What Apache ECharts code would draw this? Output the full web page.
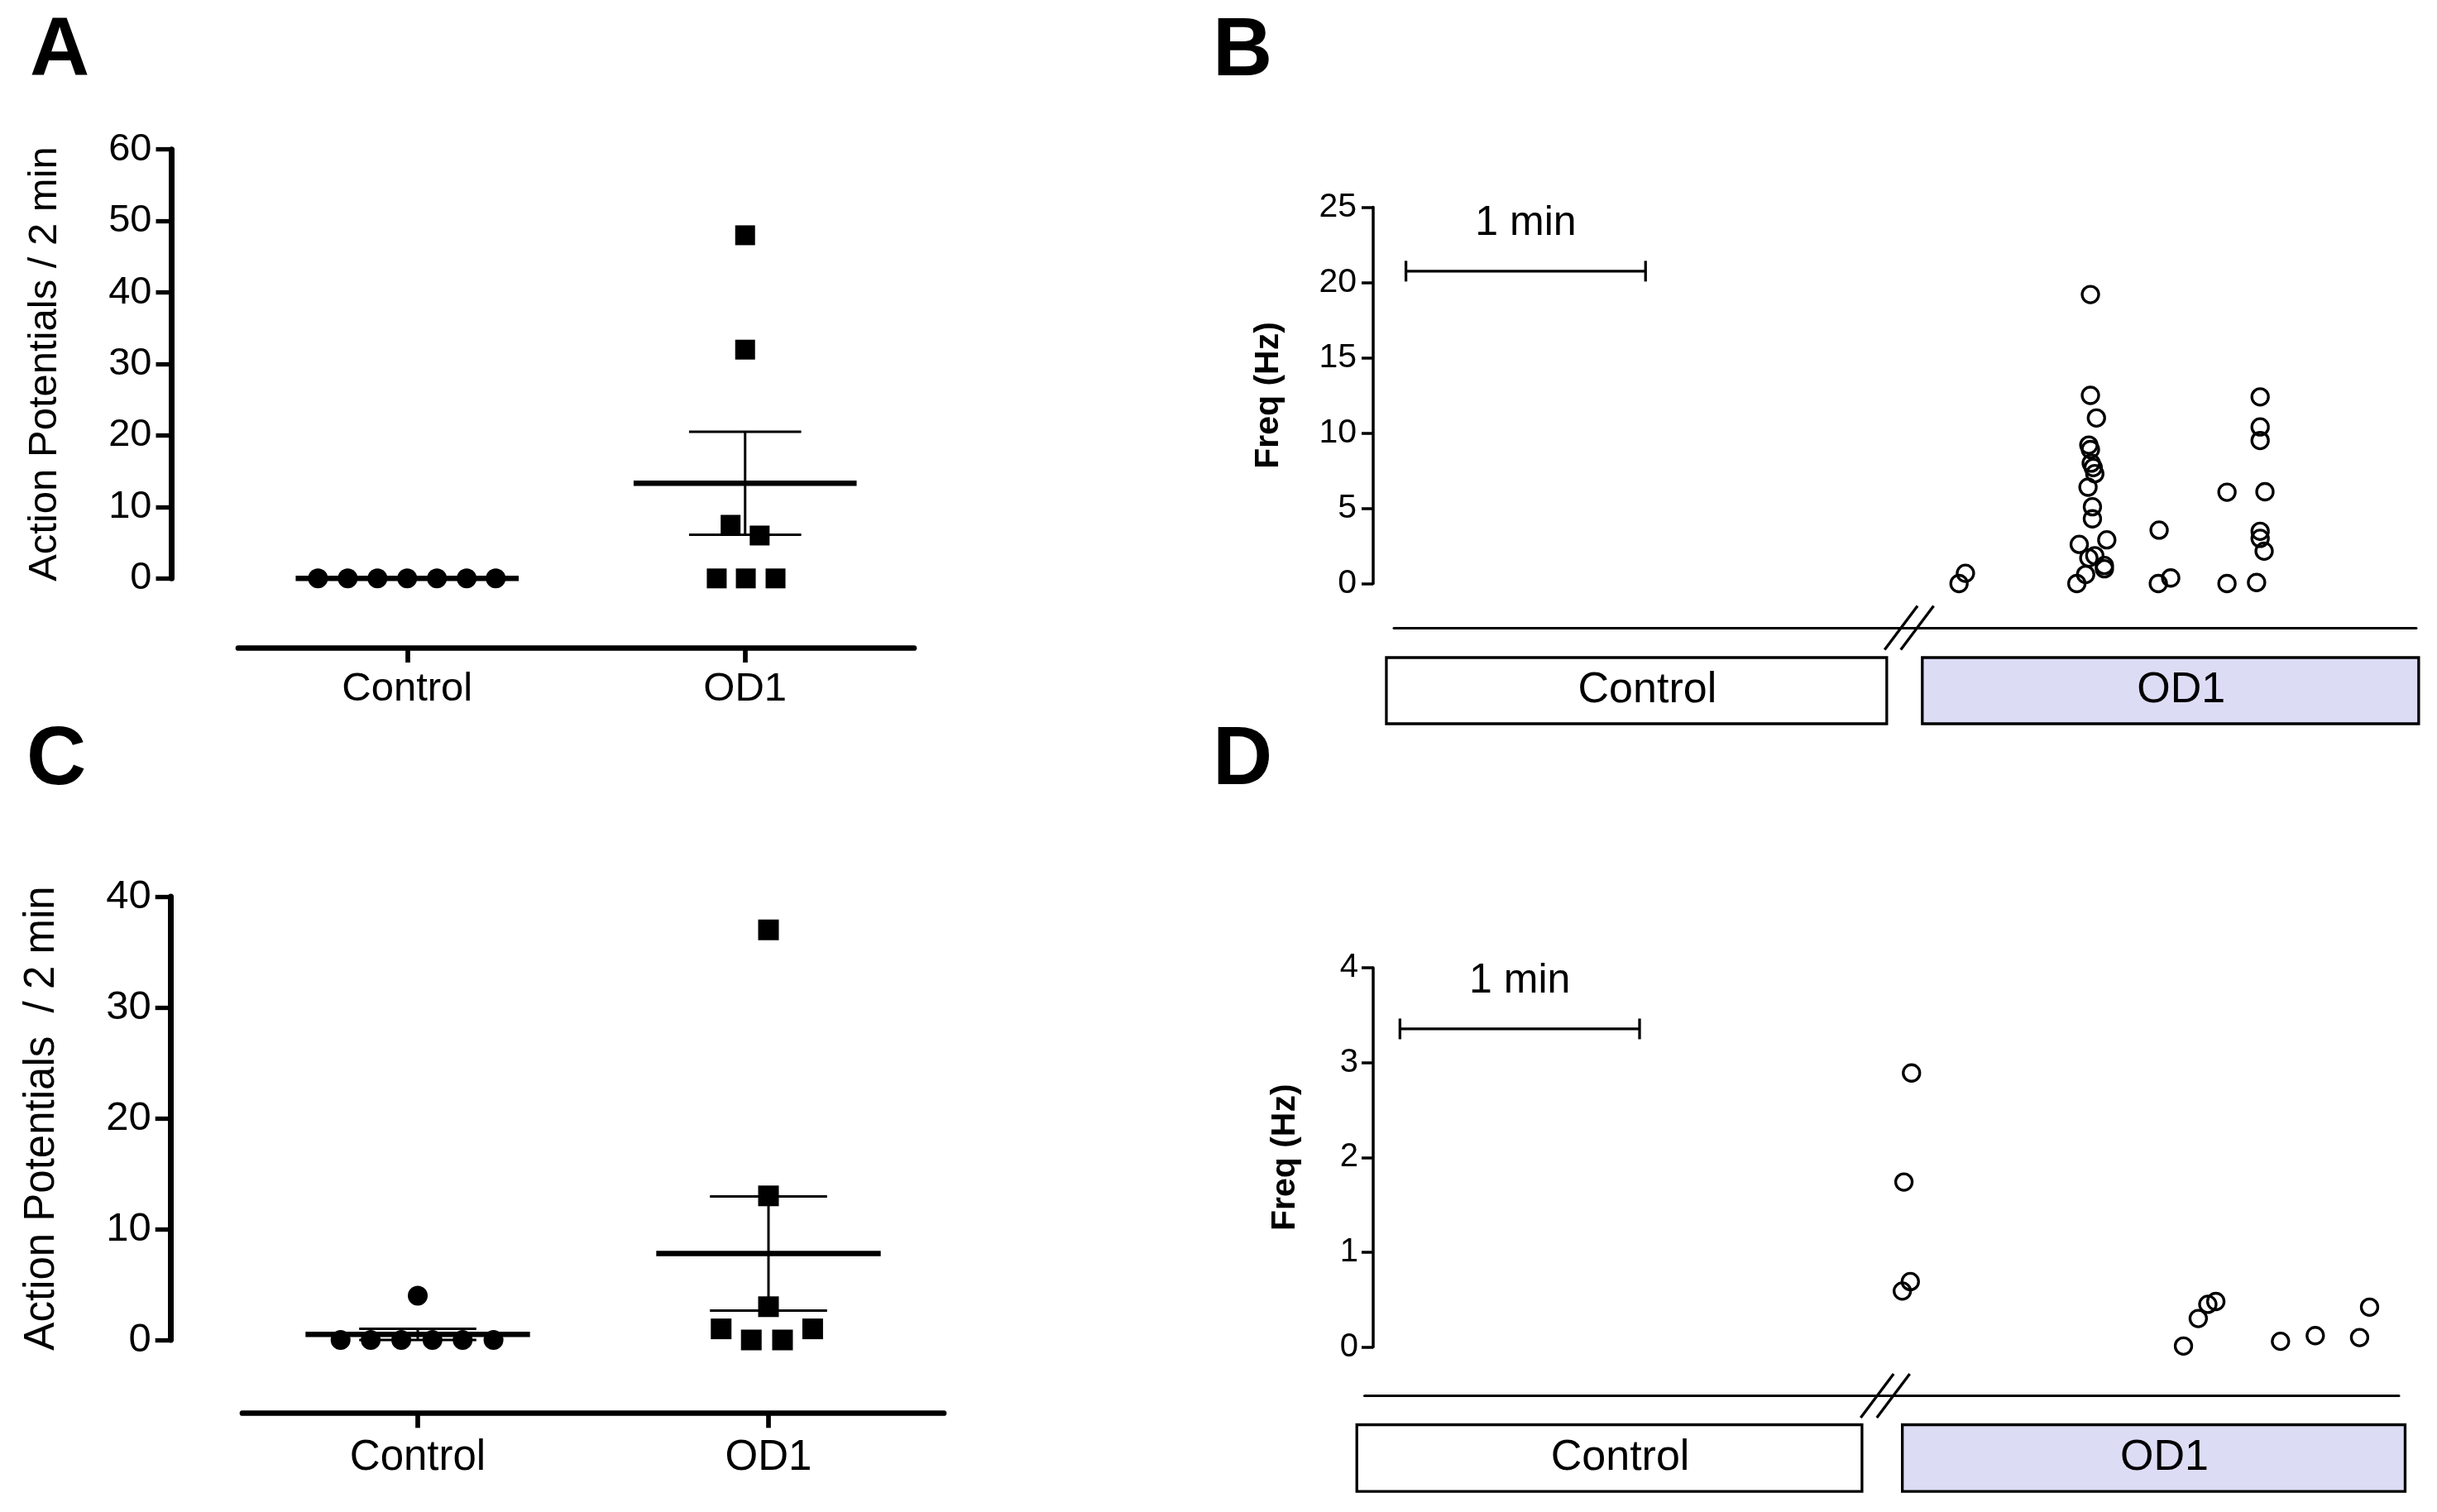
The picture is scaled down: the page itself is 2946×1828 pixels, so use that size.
<!DOCTYPE html>
<html>
<head>
<meta charset="utf-8">
<script src="https://cdn.jsdelivr.net/npm/echarts@6/dist/echarts.min.js"></script>
<style>
html,body{margin:0;padding:0;background:#ffffff;}
#chart{width:2946px;height:1828px;}
</style>
</head>
<body>
<div id="chart"></div>
<script>
// ---------------- DATA ----------------
const groups = ['Control', 'OD1'];

// Panel A : action potentials / 2 min
const ctrlA = [0, 0, 0, 0, 0, 0, 0];
const ctrlAJitter = [-0.264, -0.176, -0.088, 0, 0.088, 0.176, 0.262];
const od1A = [48, 32, 7.5, 6, 0, 0, 0];
const od1AJitter = [0, 0, -0.043, 0.043, -0.084, 0.002, 0.09];
const meanA = [0, 13.3];
const semA = [0, 7.2];

// Panel C : action potentials / 2 min
const ctrlC = [0, 0, 0, 0, 0, 0, 4];
const ctrlCJitter = [-0.22, -0.134, -0.047, 0.042, 0.128, 0.216, 0];
const od1C = [37, 13, 3, 1, 0, 0, 1];
const od1CJitter = [0, 0, 0, -0.135, -0.049, 0.04, 0.126];
const meanC = [0.5, 7.8];
const semC = [0.5, 5.15];

// Panel B : instantaneous frequency (time in s, freq in Hz)
const timeB = [146.7, 148.3,
  179.6, 179.6, 181.1, 179.2, 179.6, 179.8, 180.3, 180.7, 179.0, 180.1, 180.1,
  176.8, 183.7, 179.2, 180.7, 183.1, 183.1, 178.4, 176.2,
  196.6, 199.7, 196.8,
  213.8, 213.8, 221.2, 222.1, 222.1, 222.1, 223.3, 222.1, 222.1, 223.1];
const freqB = [0, 0.68,
  19.2, 12.5, 11.0, 9.2, 8.9, 8.0, 7.7, 7.3, 6.4, 5.1, 4.3,
  2.6, 2.9, 1.7, 1.85, 1.2, 0.98, 0.6, 0,
  0, 0.37, 3.55,
  0, 6.07, 0.07, 12.4, 10.4, 9.5, 6.1, 3.47, 3.0, 2.15];

// Panel D : instantaneous frequency
const timeD = [134.8, 132.9, 132.5, 134.5, 202.9, 206.6, 209.0, 211.0, 227.2, 235.9, 247.0, 249.5];
const freqD = [2.89, 1.74, 0.59, 0.69, 0.01, 0.30, 0.45, 0.48, 0.06, 0.12, 0.10, 0.42];

// phases (time in s)
const phaseNames = ['Control', 'OD1'];
const phaseStartB = [3.3, 137.5];
const phaseEndB = [128.6, 261.8];
const phaseStartD = [-4.1, 132.5];
const phaseEndD = [122.4, 258.4];
const breakTimeB = 134.1;
const breakTimeD = 128.2;

// scale bars [start s, end s, level]
const scaleLabel = '1 min';
const scaleBarB = [8.2, 68.2, 20.75];
const scaleBarD = [6.7, 66.7, 3.355];

// axis ranges
const yRangeA = [0, 60, 10];
const yRangeC = [0, 40, 10];
const yRangeB = [0, 25, 5];
const yRangeD = [0, 4, 1];
const timeRange = [0, 261];

// ---------------- STYLE ----------------
const FF = "'Liberation Sans', Arial, Helvetica, sans-serif";
const BLACK = '#000000';
const phaseFill = ['#ffffff', '#dcdcf5'];

function hiddenValueAxis(gi, mn, mx) {
  return {gridIndex: gi, type: 'value', min: mn, max: mx, show: false,
    axisLine: {onZero: false}, splitLine: {show: false}};
}

function catAxis(gi, off, fs, margin) {
  return {
    gridIndex: gi, type: 'category', data: groups, position: 'bottom', offset: off,
    boundaryGap: true,
    axisLine: {show: true, onZero: false, lineStyle: {color: BLACK, width: 6.7}},
    axisTick: {show: true, alignWithLabel: true, length: 18, lineStyle: {color: BLACK, width: 5.7}},
    axisLabel: {color: BLACK, fontSize: fs, fontFamily: FF, margin: margin},
    splitLine: {show: false}
  };
}

function lineAxis(gi, mn, mx) {
  return {
    gridIndex: gi, type: 'value', min: mn, max: mx, position: 'bottom',
    axisLine: {show: true, onZero: false, lineStyle: {color: BLACK, width: 3}},
    axisTick: {show: false}, axisLabel: {show: false}, splitLine: {show: false}
  };
}

function yAxisAP(gi, r, off, name, labelFs, nameFs, gap) {
  return {
    gridIndex: gi, type: 'value', min: r[0], max: r[1], interval: r[2], offset: off,
    position: 'left',
    axisLine: {show: true, onZero: false, lineStyle: {color: BLACK, width: 7}},
    axisTick: {show: true, length: 19, lineStyle: {color: BLACK, width: 5.3}},
    axisLabel: {color: BLACK, fontSize: labelFs, fontFamily: FF, margin: 24},
    splitLine: {show: false},
    name: name, nameLocation: 'middle', nameGap: gap,
    nameTextStyle: {color: BLACK, fontSize: nameFs, fontFamily: FF}
  };
}

function yAxisFreq(gi, r, labelFs, margin, gap) {
  return {
    gridIndex: gi, type: 'value', min: r[0], max: r[1], interval: r[2],
    position: 'left',
    axisLine: {show: true, onZero: false, lineStyle: {color: BLACK, width: 3.5}},
    axisTick: {show: true, length: 14, lineStyle: {color: BLACK, width: 3.5}},
    axisLabel: {color: BLACK, fontSize: labelFs, fontFamily: FF, margin: margin},
    splitLine: {show: false},
    name: 'Freq (Hz)', nameLocation: 'middle', nameGap: gap,
    nameTextStyle: {color: BLACK, fontSize: 41, fontWeight: 'bold', fontFamily: FF}
  };
}

function meanRenderer(halfMean, halfCap) {
  return function (params, api) {
    const x = api.value(0), m = api.value(1), s = api.value(2);
    const a = api.coord([x - halfMean, m]);
    const b = api.coord([x + halfMean, m]);
    const children = [{
      type: 'line', shape: {x1: a[0], y1: a[1], x2: b[0], y2: b[1]},
      style: {stroke: BLACK, lineWidth: 6.5}
    }];
    if (s > 0) {
      const t = api.coord([x, m + s]);
      const bo = api.coord([x, m - s]);
      const c1 = api.coord([x - halfCap, m + s]), c2 = api.coord([x + halfCap, m + s]);
      const c3 = api.coord([x - halfCap, m - s]), c4 = api.coord([x + halfCap, m - s]);
      const st = {stroke: BLACK, lineWidth: 3};
      children.push({type: 'line', shape: {x1: t[0], y1: t[1], x2: bo[0], y2: bo[1]}, style: st});
      children.push({type: 'line', shape: {x1: c1[0], y1: c1[1], x2: c2[0], y2: c2[1]}, style: st});
      children.push({type: 'line', shape: {x1: c3[0], y1: c3[1], x2: c4[0], y2: c4[1]}, style: st});
    }
    return {type: 'group', children: children};
  };
}

function scaleBarRender(params, api) {
  const p0 = api.coord([api.value(0), api.value(2)]);
  const p1 = api.coord([api.value(1), api.value(2)]);
  const st = {stroke: BLACK, lineWidth: 3.3};
  return {type: 'group', children: [
    {type: 'line', shape: {x1: p0[0], y1: p0[1], x2: p1[0], y2: p1[1]}, style: st},
    {type: 'line', shape: {x1: p0[0], y1: p0[1] - 12.5, x2: p0[0], y2: p0[1] + 12.5}, style: st},
    {type: 'line', shape: {x1: p1[0], y1: p1[1] - 12.5, x2: p1[0], y2: p1[1] + 12.5}, style: st},
    {type: 'text', x: (p0[0] + p1[0]) / 2, y: p0[1] - 58,
      style: {text: scaleLabel, fill: BLACK, fontSize: 50, fontFamily: FF, align: 'center', verticalAlign: 'middle'}}
  ]};
}

function breakRender(params, api) {
  const p = api.coord([api.value(0), 0]);
  const st = {stroke: BLACK, lineWidth: 3.3};
  const kids = [];
  [-9.75, 9.75].forEach(function (d) {
    kids.push({type: 'line', shape: {x1: p[0] + d - 19.9, y1: p[1] + 26.5, x2: p[0] + d + 19.9, y2: p[1] - 26.5}, style: st});
  });
  return {type: 'group', children: kids};
}

function boxRender(params, api) {
  const i = api.value(2);
  const s = api.coord([api.value(0), 1]);
  const e = api.coord([api.value(1), 0]);
  return {type: 'group', children: [
    {type: 'rect', shape: {x: s[0], y: s[1], width: e[0] - s[0], height: e[1] - s[1]},
      style: {fill: phaseFill[i], stroke: BLACK, lineWidth: 3.3}},
    {type: 'text', x: (s[0] + e[0]) / 2 + 13, y: (s[1] + e[1]) / 2,
      style: {text: phaseNames[i], fill: BLACK, fontSize: 52, fontFamily: FF, align: 'center', verticalAlign: 'middle'}}
  ]};
}

function scatterSeries(xi, yi, data, symbol, size, open) {
  return {
    type: 'scatter', xAxisIndex: xi, yAxisIndex: yi, data: data, symbol: symbol, symbolSize: size,
    itemStyle: open ? {color: 'rgba(0,0,0,0)', borderColor: BLACK, borderWidth: 3.3, opacity: 1}
                    : {color: BLACK, opacity: 1},
    silent: true, z: 2
  };
}

const option = {
  animation: false,
  backgroundColor: '#ffffff',
  textStyle: {fontFamily: FF},
  grid: [
    {left: 288, top: 180.7, width: 817, height: 518.6, outerBoundsMode: 'none'},      // 0 A
    {left: 293, top: 1084, width: 848, height: 536, outerBoundsMode: 'none'},         // 1 C
    {left: 1660, top: 250.5, width: 1260, height: 455, outerBoundsMode: 'none'},      // 2 B
    {left: 1685, top: 758, width: 1236, height: 1, outerBoundsMode: 'none'},          // 3 B line
    {left: 1660, top: 795, width: 1260, height: 80, outerBoundsMode: 'none'},         // 4 B boxes
    {left: 1660, top: 1170, width: 1260, height: 458.5, outerBoundsMode: 'none'},     // 5 D
    {left: 1649.5, top: 1686.5, width: 1250.5, height: 1, outerBoundsMode: 'none'},   // 6 D line
    {left: 1660, top: 1722.5, width: 1260, height: 80.6, outerBoundsMode: 'none'}     // 7 D boxes
  ],
  xAxis: [
    hiddenValueAxis(0, -0.5, 1.5),          // 0
    catAxis(0, 83.7, 49, 26),               // 1
    hiddenValueAxis(1, -0.5, 1.5),          // 2
    catAxis(1, 88.3, 51, 29),               // 3
    hiddenValueAxis(2, timeRange[0], timeRange[1]), // 4
    lineAxis(3, 5.18, timeRange[1]),        // 5
    hiddenValueAxis(4, timeRange[0], timeRange[1]), // 6
    hiddenValueAxis(5, timeRange[0], timeRange[1]), // 7
    lineAxis(6, -2.175, 256.83),            // 8
    hiddenValueAxis(7, timeRange[0], timeRange[1])  // 9
  ],
  yAxis: [
    yAxisAP(0, yRangeA, 80.5, 'Action Potentials / 2 min', 47, 49, 129),   // 0
    yAxisAP(1, yRangeC, 86.3, 'Action Potentials  / 2 min', 49, 51, 130),  // 1
    yAxisFreq(2, yRangeB, 41, 20, 106),                                     // 2
    hiddenValueAxis(3, 0, 1),                                               // 3
    hiddenValueAxis(4, 0, 1),                                               // 4
    yAxisFreq(5, yRangeD, 40, 18, 86),                                      // 5
    hiddenValueAxis(6, 0, 1),                                               // 6
    hiddenValueAxis(7, 0, 1)                                                // 7
  ],
  graphic: [
    {type: 'text', x: 36, y: 63, style: {text: 'A', fill: BLACK, fontSize: 100, fontWeight: 'bold', fontFamily: FF, align: 'left', verticalAlign: 'middle'}},
    {type: 'text', x: 1466, y: 63, style: {text: 'B', fill: BLACK, fontSize: 100, fontWeight: 'bold', fontFamily: FF, align: 'left', verticalAlign: 'middle'}},
    {type: 'text', x: 32, y: 920, style: {text: 'C', fill: BLACK, fontSize: 100, fontWeight: 'bold', fontFamily: FF, align: 'left', verticalAlign: 'middle'}},
    {type: 'text', x: 1466, y: 920, style: {text: 'D', fill: BLACK, fontSize: 100, fontWeight: 'bold', fontFamily: FF, align: 'left', verticalAlign: 'middle'}}
  ],
  series: [
    // Panel A
    scatterSeries(0, 0, ctrlA.map(function (v, i) { return [0 + ctrlAJitter[i], v]; }), 'circle', 24, false),
    scatterSeries(0, 0, od1A.map(function (v, i) { return [1 + od1AJitter[i], v]; }), 'rect', 24, false),
    {type: 'custom', xAxisIndex: 0, yAxisIndex: 0, renderItem: meanRenderer(0.33, 0.166),
      data: meanA.map(function (m, i) { return [i, m, semA[i]]; }), encode: {x: 0, y: 1}, clip: false, silent: true, z: 3},
    // Panel C
    scatterSeries(2, 1, ctrlC.map(function (v, i) { return [0 + ctrlCJitter[i], v]; }), 'circle', 24, false),
    scatterSeries(2, 1, od1C.map(function (v, i) { return [1 + od1CJitter[i], v]; }), 'rect', 25, false),
    {type: 'custom', xAxisIndex: 2, yAxisIndex: 1, renderItem: meanRenderer(0.32, 0.167),
      data: meanC.map(function (m, i) { return [i, m, semC[i]]; }), encode: {x: 0, y: 1}, clip: false, silent: true, z: 3},
    // Panel B
    scatterSeries(4, 2, timeB.map(function (t, i) { return [t, freqB[i]]; }), 'circle', 20, true),
    {type: 'custom', xAxisIndex: 4, yAxisIndex: 2, renderItem: scaleBarRender, data: [scaleBarB],
      encode: {x: [0, 1], y: 2}, clip: false, silent: true},
    {type: 'custom', xAxisIndex: 5, yAxisIndex: 3, renderItem: breakRender, data: [[breakTimeB]],
      encode: {x: 0}, clip: false, silent: true, z: 5},
    {type: 'custom', xAxisIndex: 6, yAxisIndex: 4, renderItem: boxRender,
      data: phaseNames.map(function (n, i) { return [phaseStartB[i], phaseEndB[i], i]; }),
      encode: {x: [0, 1]}, clip: false, silent: true},
    // Panel D
    scatterSeries(7, 5, timeD.map(function (t, i) { return [t, freqD[i]]; }), 'circle', 20, true),
    {type: 'custom', xAxisIndex: 7, yAxisIndex: 5, renderItem: scaleBarRender, data: [scaleBarD],
      encode: {x: [0, 1], y: 2}, clip: false, silent: true},
    {type: 'custom', xAxisIndex: 8, yAxisIndex: 6, renderItem: breakRender, data: [[breakTimeD]],
      encode: {x: 0}, clip: false, silent: true, z: 5},
    {type: 'custom', xAxisIndex: 9, yAxisIndex: 7, renderItem: boxRender,
      data: phaseNames.map(function (n, i) { return [phaseStartD[i], phaseEndD[i], i]; }),
      encode: {x: [0, 1]}, clip: false, silent: true}
  ]
};

const chart = echarts.init(document.getElementById('chart'), null, {renderer: 'canvas', width: 2946, height: 1828});
chart.setOption(option);
</script>
</body>
</html>
